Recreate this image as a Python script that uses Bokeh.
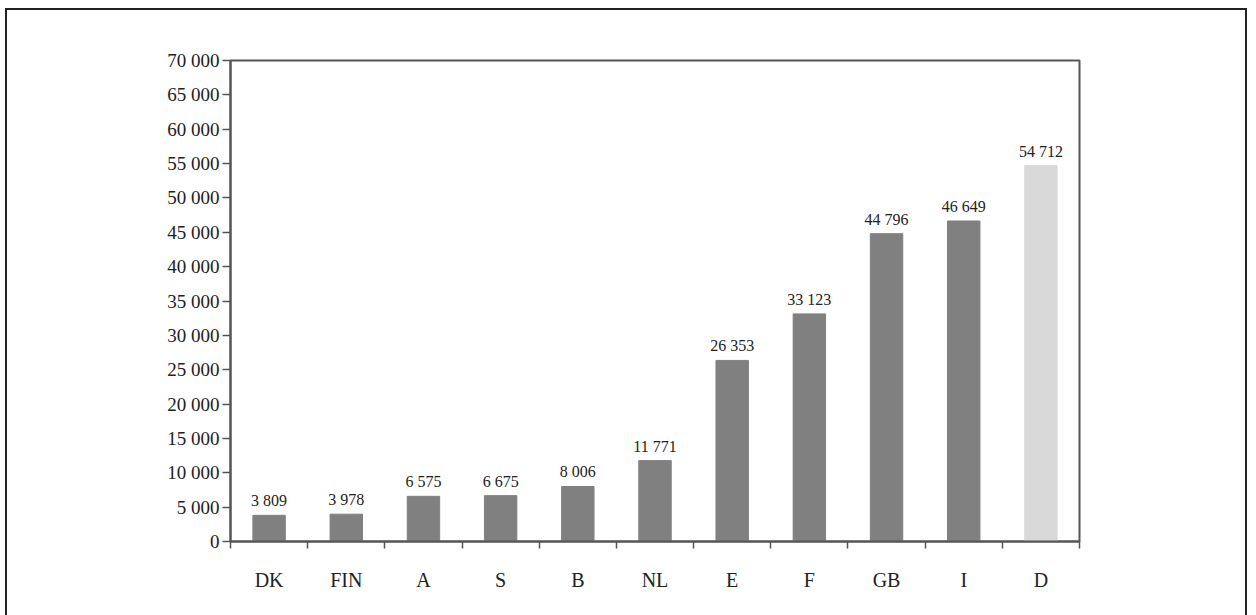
from bokeh.plotting import figure
from bokeh.models import (ColumnDataSource, FixedTicker, CustomJSTickFormatter,
                          LabelSet, Range1d)
from bokeh.embed import file_html
from bokeh.resources import INLINE

# Data
countries = ["DK", "FIN", "A", "S", "B", "NL", "E", "F", "GB", "I", "D"]
values = [3809, 3978, 6575, 6675, 8006, 11771, 26353, 33123, 44796, 46649, 54712]
value_labels = ["3 809", "3 978", "6 575", "6 675", "8 006", "11 771",
                "26 353", "33 123", "44 796", "46 649", "54 712"]
y_ticks = list(range(0, 70001, 5000))

bar_colors = ["#808080"] * (len(countries) - 1) + ["#d9d9d9"]
xs = [i + 0.5 for i in range(len(countries))]

source = ColumnDataSource(dict(x=xs, top=values, label=value_labels,
                               color=bar_colors, country=countries))

SERIF = "Liberation Serif"
AXIS_COLOR = "#555555"
TEXT_COLOR = "#222222"

p = figure(width=1242, height=613, output_backend="svg", toolbar_location=None,
           x_range=Range1d(0, len(countries)), y_range=Range1d(0, 70000),
           min_border_left=223, min_border_right=170,
           min_border_top=50, min_border_bottom=82)

# page frame around the whole chart (left, top and right edges visible)
p.styles = {"position": "absolute", "left": "5px", "top": "8px",
            "border-left": "2px solid #222222", "border-top": "2px solid #222222",
            "border-right": "2px solid #222222"}

p.vbar(x="x", top="top", bottom=0, width=0.42, color="color", source=source)

p.add_layout(LabelSet(x="x", y="top", text="label", source=source,
                      text_align="center", text_baseline="bottom", y_offset=6,
                      text_font=SERIF, text_font_size="16px", text_color=TEXT_COLOR))

# y axis
yax = p.yaxis[0]
yax.ticker = FixedTicker(ticks=y_ticks)
yax.formatter = CustomJSTickFormatter(
    code=r"return tick.toFixed(0).replace(/\B(?=(\d{3})+(?!\d))/g, ' ');")
yax.major_label_text_font = SERIF
yax.major_label_text_font_size = "19px"
yax.major_label_text_color = TEXT_COLOR
yax.major_tick_out = 8
yax.major_tick_in = 0
yax.major_tick_line_color = AXIS_COLOR
yax.major_tick_line_width = 1.5
yax.minor_tick_line_color = None
yax.major_label_standoff = 3
yax.axis_line_color = AXIS_COLOR
yax.axis_line_width = 2

# x axis: labels at category centres, tick marks at category boundaries
xax = p.xaxis[0]
xax.ticker = FixedTicker(ticks=xs, minor_ticks=list(range(len(countries) + 1)))
xax.major_label_overrides = {x: c for x, c in zip(xs, countries)}
xax.major_tick_line_color = None
xax.minor_tick_line_color = AXIS_COLOR
xax.minor_tick_line_width = 1.5
xax.minor_tick_out = 7
xax.minor_tick_in = 0
xax.major_label_text_font = SERIF
xax.major_label_text_font_size = "20px"
xax.major_label_text_color = TEXT_COLOR
xax.major_label_standoff = 20
xax.axis_line_color = AXIS_COLOR
xax.axis_line_width = 2

p.xgrid.grid_line_color = None
p.ygrid.grid_line_color = None
p.outline_line_color = AXIS_COLOR
p.outline_line_width = 2

open("out.html", "w").write(file_html(p, INLINE))
